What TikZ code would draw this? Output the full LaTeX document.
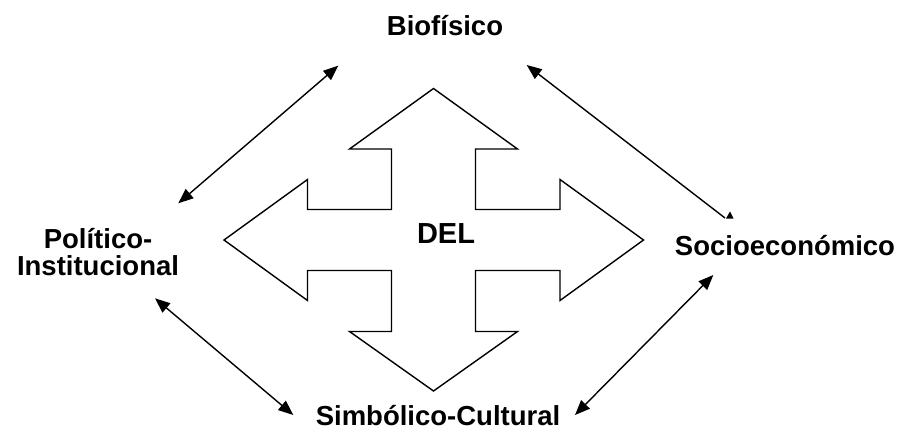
\documentclass[tikz,border=0pt]{standalone}
\usepackage{fontspec}
\setmainfont{Liberation Sans}
\usetikzlibrary{arrows.meta}
\begin{document}
\begin{tikzpicture}[x=1pt,y=-1pt,
  lbl/.style={font=\fontsize{27.5}{27}\selectfont\bfseries, inner sep=0pt, anchor=base, align=center},
  conn/.style={line width=1.4pt, {Triangle[length=15pt,width=12pt]}-{Triangle[length=15pt,width=12pt]}},
  crossline/.style={line width=1.4pt, line join=miter}]
\useasboundingbox (0,0) rectangle (902,431);
% labels
\node[lbl] (bio) at (445,35) {Biofísico};
\node[lbl] (pol) at (98,275) {Político-\\Institucional};
\node[lbl] (soc) at (785,255) {Socioeconómico};
\node[lbl] (sim) at (438,425) {Simbólico-Cultural};
% cross arrow
\draw[crossline] (433.5,88.5) -- (517.5,149) -- (475.5,149) -- (475.5,209.5) -- (560,209.5) -- (560,179.5)
  -- (643.5,240) -- (560,300.5) -- (560,270.5) -- (475.5,270.5) -- (475.5,331.5) -- (517.5,331.5)
  -- (433.5,391) -- (349.5,331.5) -- (391.5,331.5) -- (391.5,270.5) -- (307.5,270.5) -- (307.5,300.5)
  -- (224,240) -- (307.5,179.5) -- (307.5,209.5) -- (391.5,209.5) -- (391.5,149) -- (349.5,149) -- cycle;
\node[lbl, font=\fontsize{29}{29}\selectfont\bfseries] (del) at (446,243) {DEL};
% connector end points
\coordinate (a1) at (338.3,65.7);
\coordinate (a2) at (178.3,203.3);
\coordinate (b1) at (526.7,65);
\coordinate (b2) at (725,218);
\coordinate (c1) at (155,298.3);
\coordinate (c2) at (293.3,415);
\coordinate (d1) at (713.3,275);
\coordinate (d2) at (575,415);
\draw[conn] (a1) -- (a2);
\draw[line width=1.4pt, {Triangle[length=15pt,width=12pt]}-] (b1) -- (b2);
\fill (726,218.5) -- (730,211.5) -- (733.5,218.5) -- cycle;
\draw[conn] (c1) -- (c2);
\draw[conn] (d1) -- (d2);
\end{tikzpicture}
\end{document}
